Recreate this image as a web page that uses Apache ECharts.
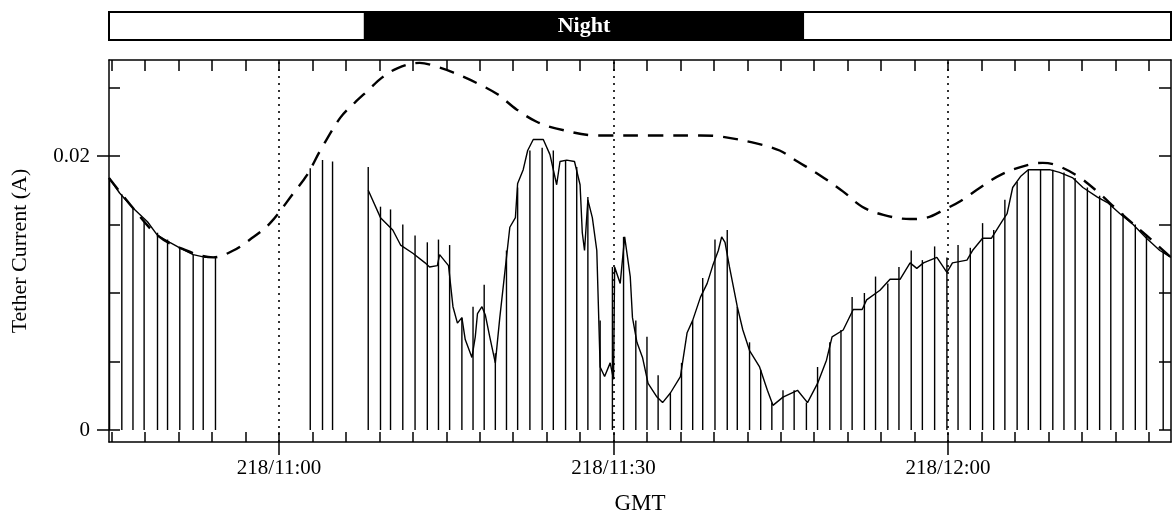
<!DOCTYPE html>
<html>
<head>
<meta charset="utf-8">
<script src="https://cdn.jsdelivr.net/npm/echarts/dist/echarts.min.js"></script>
<style>
  html, body { margin: 0; padding: 0; background: #fff; }
  #chart { width: 1174px; height: 521px; }
</style>
</head>
<body>
<div id="chart"></div>
<script>
// --- DATEN ---
// Zeit in Minuten ab 218/10:00 GMT
const tMin = 44.75;
const tMax = 140.0;

const tickTimes = [45, 48, 51, 54, 57, 60, 63, 66, 69, 72, 75, 78, 81, 84, 87, 90, 93, 96,
  99, 102, 105, 108, 111, 114, 117, 120, 123, 126, 129, 132, 135, 138];
const labelTimes = [60, 90, 120];
const labelTexts = ['218/11:00', '218/11:30', '218/12:00'];

const yTicks = [0, 0.005, 0.01, 0.015, 0.02, 0.025];
const yLabelValues = [0, 0.02];
const yLabelTexts = ['0', '0.02'];

// Tag/Nacht-Balken
const lightEdges = [44.75, 67.7, 107.0, 140.0];
const lightStates = ['day', 'night', 'day'];
const lightLabels = ['', 'Night', ''];

// gemessener Tether-Strom (null = Datenlücke)
const currentTrace = [
  [44.75, 0.0184], [45.7, 0.0173], [46.9, 0.0162], [48.2, 0.0152], [49.1, 0.0142], [50.2, 0.0137],
  [51.1, 0.0133], [52.3, 0.0128], [53.4, 0.0126], [54.3, 0.0126],
  [54.4, null],
  [68.0, 0.0175], [69.1, 0.0155], [70.2, 0.0146], [70.9, 0.0135], [72.0, 0.0129], [73.1, 0.0122],
  [73.5, 0.0119], [74.2, 0.0120], [74.4, 0.0128], [75.2, 0.0120], [75.3, 0.0119], [75.6, 0.0090],
  [76.0, 0.0078], [76.4, 0.0082], [76.7, 0.0066], [77.3, 0.0053], [77.6, 0.0068], [77.8, 0.0085],
  [78.2, 0.0090], [78.5, 0.0084], [78.9, 0.0068], [79.4, 0.0049], [79.8, 0.0082], [80.4, 0.0126],
  [80.7, 0.0148], [81.2, 0.0155], [81.4, 0.0180], [81.9, 0.0190], [82.3, 0.0204], [82.8, 0.0212],
  [83.7, 0.0212], [84.3, 0.0201], [84.9, 0.0179], [85.2, 0.0196], [85.8, 0.0197], [86.5, 0.0196],
  [87.0, 0.0179], [87.2, 0.0144], [87.4, 0.0131], [87.7, 0.0168], [88.1, 0.0155], [88.5, 0.0131],
  [88.8, 0.0046], [89.2, 0.0039], [89.7, 0.0049], [90.0, 0.0037], [90.1, 0.0119], [90.6, 0.0107],
  [91.0, 0.0141], [91.5, 0.0112], [91.7, 0.0082], [92.1, 0.0064], [92.6, 0.0053], [93.1, 0.0034],
  [93.9, 0.0024], [94.4, 0.0020], [95.1, 0.0027], [96.0, 0.0039], [96.6, 0.0071], [97.1, 0.0080],
  [97.8, 0.0097], [98.4, 0.0107], [98.9, 0.0120], [99.4, 0.0131], [99.7, 0.0141], [100.0, 0.0137],
  [100.4, 0.0119], [101.1, 0.0090], [101.6, 0.0073], [102.2, 0.0058], [103.1, 0.0046], [103.8, 0.0029],
  [104.3, 0.0018], [105.2, 0.0024], [106.5, 0.0029], [107.4, 0.0020], [108.3, 0.0034], [109.1, 0.0051],
  [109.6, 0.0068], [110.6, 0.0073], [111.5, 0.0088], [112.3, 0.0088], [112.7, 0.0095], [113.9, 0.0102],
  [114.8, 0.0110], [115.7, 0.0110], [116.6, 0.0122], [117.2, 0.0118], [117.8, 0.0122], [119.0, 0.0126],
  [119.9, 0.0115], [120.4, 0.0122], [121.7, 0.0124], [122.2, 0.0131], [123.1, 0.0140], [123.9, 0.0140],
  [124.9, 0.0153], [125.3, 0.0158], [125.8, 0.0177], [126.5, 0.0185], [127.2, 0.0190], [129.1, 0.0190],
  [130.0, 0.0188], [131.2, 0.0184], [132.1, 0.0177], [133.4, 0.0170], [134.3, 0.0166], [135.4, 0.0158],
  [136.6, 0.0150], [137.8, 0.0140], [139.0, 0.0131], [140.0, 0.0126]
];

// Abfälle auf Null (Messpulse)
const pulseTimes = [44.8, 45.9, 46.9, 47.9, 49.1, 50.0, 51.1, 52.3, 53.2, 54.3,
  62.8, 63.9, 64.8,
  68.0, 69.1, 70.0, 71.1, 72.2, 73.3, 74.3, 75.3, 76.4, 77.4, 78.4, 79.4, 80.4, 81.4, 82.5, 83.6,
  84.6, 85.7, 86.7, 87.7, 88.8, 89.9, 90.9, 92.0, 93.0, 94.0, 95.1, 96.1, 97.1, 98.0, 99.1, 100.2,
  101.1, 102.2, 103.2, 104.2, 105.2, 106.2, 107.3, 108.3, 109.4, 110.4, 111.4, 112.5, 113.5, 114.6,
  115.6, 116.7, 117.7, 118.8, 119.9, 120.9, 122.0, 123.1, 124.1, 125.1, 126.2, 127.2, 128.3, 129.4,
  130.4, 131.4, 132.5, 133.6, 134.6, 135.7, 136.8, 137.8, 139.3];
const pulseTops = [0.0184, 0.0172, 0.0162, 0.0153, 0.0144, 0.0139, 0.0133, 0.0128, 0.0126, 0.0126,
  0.0191, 0.0197, 0.0196,
  0.0192, 0.0163, 0.0161, 0.0150, 0.0142, 0.0137, 0.0139, 0.0135, 0.0082, 0.0090, 0.0106, 0.0056,
  0.0131, 0.0177, 0.0204, 0.0206, 0.0204, 0.0197, 0.0192, 0.0170, 0.0080, 0.0119, 0.0141, 0.0080,
  0.0068, 0.0040, 0.0027, 0.0049, 0.0080, 0.0111, 0.0139, 0.0146, 0.0090, 0.0064, 0.0044, 0.0020,
  0.0029, 0.0029, 0.0020, 0.0046, 0.0064, 0.0073, 0.0097, 0.0100, 0.0112, 0.0107, 0.0119, 0.0131,
  0.0124, 0.0134, 0.0126, 0.0135, 0.0133, 0.0151, 0.0146, 0.0168, 0.0181, 0.0190, 0.0190, 0.0190,
  0.0188, 0.0184, 0.0177, 0.0171, 0.0165, 0.0158, 0.0150, 0.0142, 0.0131];

// Modellkurve (gestrichelt)
const modelTrace = [
  [44.75, 0.0184], [46.9, 0.0162], [49.1, 0.0142], [51.1, 0.0133], [54.1, 0.0126], [55.9, 0.0131],
  [57.4, 0.0139], [59.2, 0.0151], [61.3, 0.0173], [62.5, 0.0186], [63.7, 0.0204], [65.5, 0.0228],
  [66.8, 0.0239], [68.0, 0.0248], [69.2, 0.0257], [70.6, 0.0264], [72.6, 0.0268], [74.2, 0.0265],
  [75.6, 0.0261], [77.8, 0.0253], [79.6, 0.0245], [81.3, 0.0234], [83.1, 0.0225], [84.9, 0.0220],
  [88.5, 0.0215], [93.9, 0.0215], [97.8, 0.0215], [99.8, 0.0214], [102.9, 0.0209], [104.9, 0.0204],
  [106.5, 0.0196], [108.5, 0.0186], [110.6, 0.0174], [112.3, 0.0163], [114.2, 0.0157], [116.6, 0.0154],
  [118.1, 0.0155], [119.7, 0.0161], [121.1, 0.0167], [122.9, 0.0177], [124.9, 0.0187], [127.4, 0.0194],
  [128.5, 0.0195], [129.8, 0.0193], [131.7, 0.0185], [133.4, 0.0174], [135.4, 0.0159], [137.8, 0.0142],
  [140.0, 0.0126]
];

// --- CHART ---
const chart = echarts.init(document.getElementById('chart'), null, { renderer: 'canvas' });
const FONT = '"Liberation Serif", "Times New Roman", serif';

const plotGrid = { left: 109, right: 3, top: 60, bottom: 79 };
const black = { color: '#000', width: 1.5 };

function labelFor(values, texts) {
  return v => {
    for (let i = 0; i < values.length; i++) {
      if (Math.abs(values[i] - v) < 1e-9) return texts[i];
    }
    return '';
  };
}

chart.setOption({
  animation: false,
  backgroundColor: '#fff',
  textStyle: { fontFamily: FONT, color: '#000' },
  grid: [
    plotGrid,
    { left: 109, right: 3, top: 12, height: 28 }
  ],
  xAxis: [
    { // unten, kurze Ticks nach innen
      type: 'value', gridIndex: 0, min: tMin, max: tMax, position: 'bottom',
      axisLine: { show: true, onZero: false, lineStyle: black },
      axisTick: { show: true, inside: true, length: 10, customValues: tickTimes, lineStyle: black },
      axisLabel: { show: false },
      splitLine: { show: false }
    },
    { // unten, Hauptticks nach aussen mit Beschriftung
      type: 'value', gridIndex: 0, min: tMin, max: tMax, position: 'bottom',
      axisLine: { show: false, onZero: false },
      axisTick: { show: true, inside: false, length: 13, customValues: labelTimes, lineStyle: black },
      axisLabel: {
        show: true, customValues: labelTimes, margin: 16,
        formatter: labelFor(labelTimes, labelTexts),
        fontFamily: FONT, fontSize: 21, color: '#000'
      },
      splitLine: { show: false },
      name: 'GMT', nameLocation: 'middle', nameGap: 50,
      nameTextStyle: { fontFamily: FONT, fontSize: 23, color: '#000' }
    },
    { // oben
      type: 'value', gridIndex: 0, min: tMin, max: tMax, position: 'top',
      axisLine: { show: true, onZero: false, lineStyle: black },
      axisTick: { show: true, inside: true, length: 11, customValues: tickTimes, lineStyle: black },
      axisLabel: { show: false },
      splitLine: { show: false }
    },
    { // Tag/Nacht-Balken
      type: 'value', gridIndex: 1, min: tMin, max: tMax, show: false
    }
  ],
  yAxis: [
    {
      type: 'value', gridIndex: 0, min: -0.000876, max: 0.027007, position: 'left',
      axisLine: { show: true, onZero: false, lineStyle: black },
      axisTick: { show: true, inside: true, length: 11, customValues: yTicks, lineStyle: black },
      axisLabel: {
        show: true, customValues: yLabelValues, margin: 19,
        formatter: labelFor(yLabelValues, yLabelTexts),
        fontFamily: FONT, fontSize: 21, color: '#000'
      },
      splitLine: { show: false },
      name: 'Tether Current (A)', nameLocation: 'middle', nameGap: 78,
      nameTextStyle: { fontFamily: FONT, fontSize: 22, color: '#000' }
    },
    {
      type: 'value', gridIndex: 0, min: -0.000876, max: 0.027007, position: 'left',
      axisLine: { show: false, onZero: false },
      axisTick: { show: true, inside: false, length: 12, customValues: yLabelValues, lineStyle: black },
      axisLabel: { show: false },
      splitLine: { show: false }
    },
    {
      type: 'value', gridIndex: 0, min: -0.000876, max: 0.027007, position: 'right',
      axisLine: { show: true, onZero: false, lineStyle: black },
      axisTick: { show: true, inside: true, length: 12, customValues: yTicks, lineStyle: black },
      axisLabel: { show: false },
      splitLine: { show: false }
    },
    { type: 'value', gridIndex: 1, min: 0, max: 1, show: false }
  ],
  series: [
    {
      name: 'Pulse',
      type: 'custom',
      xAxisIndex: 0, yAxisIndex: 0,
      data: pulseTimes.map((t, i) => [t, pulseTops[i]]),
      renderItem: (params, api) => {
        const top = api.coord([api.value(0), api.value(1)]);
        const base = api.coord([api.value(0), 0]);
        return {
          type: 'line',
          shape: { x1: top[0], y1: top[1], x2: base[0], y2: base[1] },
          style: { stroke: '#000', lineWidth: 1.4 }
        };
      },
      silent: true
    },
    {
      name: 'Strom',
      type: 'line',
      xAxisIndex: 0, yAxisIndex: 0,
      data: currentTrace,
      symbol: 'none',
      connectNulls: false,
      lineStyle: { color: '#000', width: 1.4 },
      silent: true
    },
    {
      name: 'Modell',
      type: 'line',
      xAxisIndex: 0, yAxisIndex: 0,
      data: modelTrace,
      symbol: 'none',
      smooth: 0.35,
      lineStyle: { color: '#000', width: 2.4, type: [15, 10] },
      silent: true,
      markLine: {
        silent: true,
        symbol: 'none',
        label: { show: false },
        lineStyle: { color: '#000', width: 1.6, type: [2, 5] },
        data: labelTimes.map(t => ({ xAxis: t }))
      }
    },
    {
      name: 'Tag/Nacht',
      type: 'custom',
      xAxisIndex: 3, yAxisIndex: 3,
      data: lightStates.map((s, i) => [lightEdges[i], lightEdges[i + 1], i]),
      renderItem: (params, api) => {
        const i = api.value(2);
        const p1 = api.coord([api.value(0), 1]);
        const p2 = api.coord([api.value(1), 0]);
        const night = lightStates[i] === 'night';
        return {
          type: 'group',
          children: [
            {
              type: 'rect',
              shape: { x: p1[0], y: p1[1], width: p2[0] - p1[0], height: p2[1] - p1[1] },
              style: { fill: night ? '#000' : '#fff', stroke: '#000', lineWidth: 2 }
            },
            {
              type: 'text',
              style: {
                text: lightLabels[i],
                x: (p1[0] + p2[0]) / 2, y: (p1[1] + p2[1]) / 2,
                align: 'center', verticalAlign: 'middle',
                fill: '#fff', font: 'bold 22px ' + FONT
              }
            }
          ]
        };
      },
      silent: true
    }
  ]
});

window.addEventListener('resize', () => chart.resize());
</script>
</body>
</html>
